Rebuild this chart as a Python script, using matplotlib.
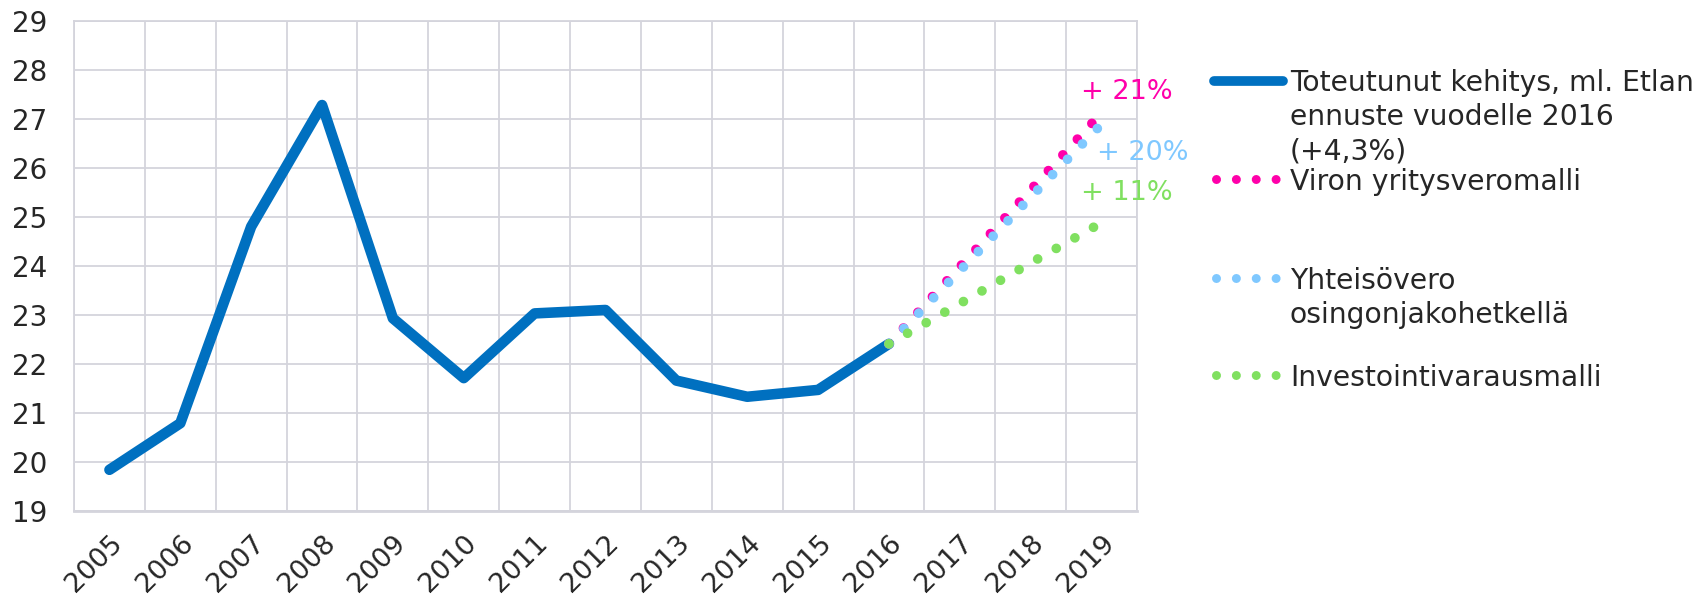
import matplotlib.pyplot as plt
from matplotlib.lines import Line2D

# data
years = ['2005', '2006', '2007', '2008', '2009', '2010', '2011', '2012',
         '2013', '2014', '2015', '2016', '2017', '2018', '2019']
actual = [19.84, 20.79, 24.80, 27.28, 22.93, 21.71, 23.03, 23.10,
          21.66, 21.33, 21.47, 22.41]
forecast_years = ['2016', '2017', '2018', '2019']
viro = [22.41, 23.98, 25.55, 27.12]
yhteis = [22.41, 23.90, 25.40, 26.89]
invest = [22.41, 23.23, 24.06, 24.88]

labels = ['Toteutunut kehitys, ml. Etlan\nennuste vuodelle 2016\n(+4,3%)',
          'Viron yritysveromalli',
          'Yhteisövero\nosingonjakohetkellä',
          'Investointivarausmalli']
notes = ['+ 21%', '+ 20%', '+ 11%']

c_blue = '#0070C0'
c_pink = '#FF00AA'
c_light = '#7FC8FF'
c_green = '#80E060'
c_text = '#262626'
c_grid = '#D4D4DC'

W, H = 1706, 600
fig = plt.figure(figsize=(W / 100, H / 100), dpi=100)
ax = fig.add_axes([74 / W, 1 - 511 / H, (1137 - 74) / W, (511 - 20.7) / H])

x_act = [years.index(y) for y in years[:len(actual)]]
x_fc = [years.index(y) for y in forecast_years]

dot = (0, (0.001, 2.2))
ax.plot(x_act, actual, color=c_blue, lw=7.6, solid_joinstyle='round',
        solid_capstyle='round', zorder=3)
ax.plot(x_fc, viro, color=c_pink, lw=7, linestyle=dot, dash_capstyle='round', zorder=4)
ax.plot(x_fc, yhteis, color=c_light, lw=7, linestyle=dot, dash_capstyle='round', zorder=5)
ax.plot(x_fc, invest, color=c_green, lw=7, linestyle=dot, dash_capstyle='round', zorder=6)

# axes & grid
ax.set_xlim(-0.5, len(years) - 0.5)
ax.set_ylim(19, 29)
ax.set_yticks(range(19, 30))
ax.set_xticks(range(len(years)))
ax.set_xticklabels(years, rotation=45, ha='right', va='top', rotation_mode='anchor')
ax.set_xticks([i - 0.5 for i in range(len(years) + 1)], minor=True)
ax.grid(True, axis='y', color=c_grid, lw=1.3)
ax.grid(True, axis='x', which='minor', color=c_grid, lw=1.3)
ax.tick_params(axis='both', which='both', length=0, colors=c_text)
ax.tick_params(axis='y', labelsize=20, pad=19)
ax.tick_params(axis='x', labelsize=19.5, pad=14)
for s in ax.spines.values():
    s.set_color(c_grid)
    s.set_linewidth(1.3)
ax.spines['bottom'].set_linewidth(2)

# percentage notes
def px(x, y):
    return x / W, 1 - y / H

ax.text(*px(1081, 92), notes[0], transform=fig.transFigure, color=c_pink,
        fontsize=19.5, va='center', ha='left')
ax.text(*px(1097, 153), notes[1], transform=fig.transFigure, color=c_light,
        fontsize=19.5, va='center', ha='left')
ax.text(*px(1081, 193), notes[2], transform=fig.transFigure, color=c_green,
        fontsize=19.5, va='center', ha='left')

# legend drawn by hand to match the layout
handle_y = [80.7, 179.3, 278.3, 375]
styles = [dict(color=c_blue, lw=7, solid_capstyle='round'),
          dict(color=c_pink, lw=6.5, linestyle=dot, dash_capstyle='round'),
          dict(color=c_light, lw=6.5, linestyle=dot, dash_capstyle='round'),
          dict(color=c_green, lw=6.5, linestyle=dot, dash_capstyle='round')]
for i, (lab, st) in enumerate(zip(labels, styles)):
    hy = handle_y[i]
    if i == 0:
        x0, x1 = 1214, 1283
    else:
        x0, x1 = 1215.7, 1279.5
    fig.add_artist(Line2D([x0 / W, x1 / W], [1 - hy / H, 1 - hy / H],
                          transform=fig.transFigure, **st))
    for j, line in enumerate(lab.split('\n')):
        fig.text(1290 / W, 1 - (hy + 10.5 + j * 34) / H, line, fontsize=20.3,
                 color=c_text, ha='left', va='baseline')

fig.savefig('out.png', dpi=100)
